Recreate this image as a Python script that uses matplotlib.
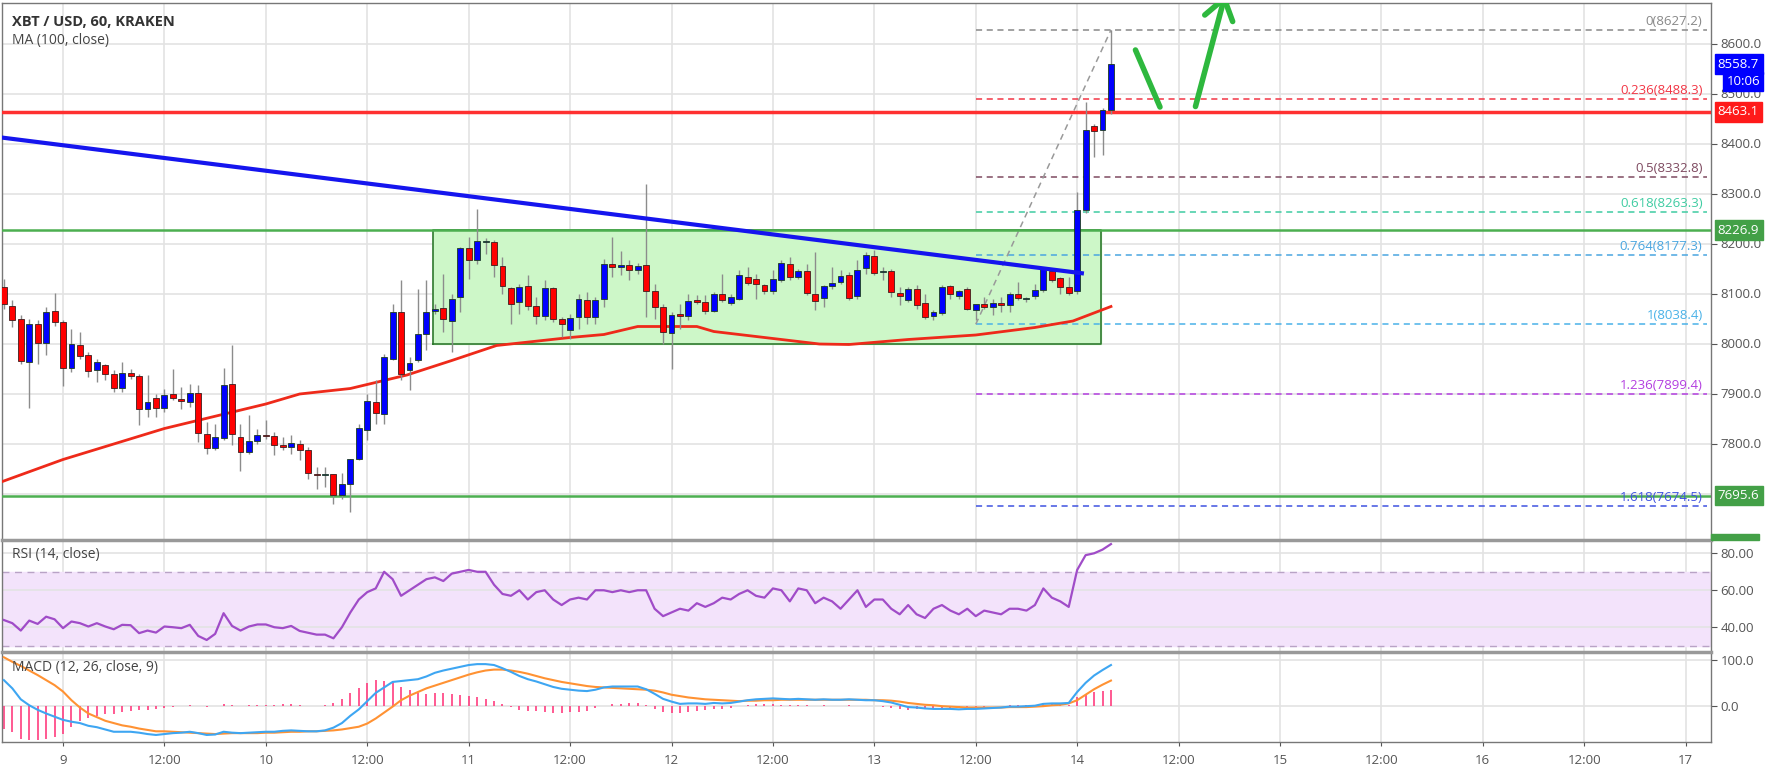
import numpy as np
import matplotlib.pyplot as plt
from matplotlib.transforms import blended_transform_factory
from matplotlib.patches import Rectangle

plt.rcParams['font.family'] = ['Open Sans', 'DejaVu Sans']

# hourly candles, hour 0 = day 9 00:00
hours = np.arange(-7, 125)
opens = [8112, 8075, 8048, 7962, 8038, 8000, 8064, 8042,
         7950, 7997, 7976, 7947, 7956, 7939, 7911, 7940, 7935, 7868,
         7890, 7870, 7899, 7888, 7882, 7900, 7819, 7790, 7810, 7918,
         7812, 7782, 7805, 7817, 7815, 7796, 7792, 7799, 7787, 7739,
         7737, 7739, 7697, 7718, 7768, 7827, 7882, 7859, 7968, 8062,
         7946, 7966, 8018, 8064, 8070, 8044, 8092, 8190, 8167, 8202,
         8202, 8155, 8110, 8082, 8114, 8074, 8054, 8110, 8048, 8027,
         8052, 8086, 8052, 8088, 8158, 8152, 8156, 8147, 8156, 8104,
         8072, 8020, 8058, 8054, 8087, 8082, 8065, 8098, 8080, 8089,
         8132, 8129, 8117, 8104, 8127, 8158, 8133, 8145, 8098, 8090,
         8114, 8122, 8137, 8094, 8150, 8175, 8142, 8144, 8100, 8087,
         8108, 8080, 8054, 8060, 8114, 8094, 8108, 8067, 8078, 8072,
         8080, 8076, 8098, 8088, 8094, 8106, 8144, 8130, 8112, 8104,
         8267, 8434, 8427, 8467]
highs = [8130, 8088, 8057, 8050, 8047, 8074, 8102, 8047,
         8030, 8024, 7984, 7970, 7960, 7947, 7964, 7950, 7940, 7937,
         7900, 7910, 7950, 7914, 7919, 7917, 7844, 7840, 7952, 7997,
         7840, 7857, 7830, 7847, 7824, 7814, 7817, 7807, 7794, 7754,
         7754, 7740, 7742, 7770, 7840, 7900, 7927, 7980, 8080, 8127,
         7974, 8110, 8127, 8080, 8140, 8100, 8194, 8214, 8270, 8212,
         8207, 8174, 8114, 8120, 8137, 8094, 8127, 8114, 8054, 8060,
         8100, 8104, 8094, 8170, 8214, 8186, 8168, 8162, 8319, 8120,
         8080, 8064, 8080, 8100, 8097, 8097, 8104, 8140, 8100, 8147,
         8154, 8140, 8120, 8147, 8167, 8174, 8150, 8160, 8184, 8117,
         8154, 8147, 8144, 8167, 8184, 8187, 8154, 8150, 8114, 8114,
         8117, 8100, 8067, 8117, 8117, 8107, 8114, 8080, 8094, 8090,
         8094, 8104, 8124, 8094, 8120, 8154, 8150, 8134, 8134, 8304,
         8484, 8440, 8471, 8627.2]
lows = [8070, 8034, 7960, 7872, 7960, 7977, 8036, 7915,
        7944, 7970, 7934, 7924, 7927, 7904, 7904, 7930, 7837, 7854,
        7854, 7864, 7887, 7870, 7874, 7804, 7780, 7787, 7807, 7797,
        7746, 7780, 7800, 7810, 7777, 7787, 7780, 7767, 7730, 7710,
        7714, 7680, 7690, 7664, 7767, 7807, 7840, 7840, 7967, 7927,
        7907, 7964, 7987, 8060, 8024, 7984, 8064, 8130, 8160, 8179,
        8134, 8100, 8040, 8060, 8067, 8040, 8047, 8044, 8014, 8010,
        8030, 8040, 8040, 8074, 8134, 8137, 8127, 8140, 8054, 8050,
        8000, 7950, 8030, 8047, 8080, 8060, 8064, 8084, 8077, 8087,
        8117, 8090, 8100, 8100, 8124, 8127, 8130, 8097, 8067, 8074,
        8110, 8120, 8087, 8090, 8140, 8137, 8127, 8094, 8077, 8084,
        8070, 8050, 8048, 8057, 8090, 8090, 8067, 8047, 8070, 8057,
        8064, 8064, 8087, 8084, 8090, 8104, 8124, 8100, 8097, 8100,
        8262, 8374, 8377, 8460]
closes = [8079, 8047, 7964, 8038, 8000, 8062, 8042, 7950,
          7999, 7975, 7944, 7962, 7938, 7911, 7940, 7935, 7868, 7882,
          7870, 7896, 7890, 7884, 7900, 7820, 7790, 7812, 7916, 7819,
          7782, 7805, 7817, 7814, 7797, 7793, 7800, 7786, 7740, 7737,
          7737, 7697, 7718, 7768, 7830, 7885, 7860, 7972, 8062, 7939,
          7960, 8018, 8062, 8068, 8048, 8088, 8190, 8167, 8205, 8202,
          8156, 8114, 8079, 8112, 8075, 8055, 8110, 8048, 8038, 8050,
          8088, 8052, 8086, 8159, 8152, 8156, 8147, 8154, 8104, 8072,
          8022, 8057, 8054, 8085, 8082, 8065, 8098, 8087, 8092, 8137,
          8120, 8119, 8104, 8129, 8160, 8132, 8145, 8100, 8085, 8114,
          8120, 8135, 8090, 8147, 8177, 8140, 8142, 8102, 8095, 8108,
          8077, 8052, 8062, 8112, 8099, 8104, 8068, 8078, 8072, 8080,
          8076, 8098, 8090, 8088, 8106, 8148, 8127, 8112, 8100, 8267,
          8427, 8424, 8466, 8558.7]

# MA(100)
ma_hours = [-7.5, 0, 12, 24, 28, 34, 40.7, 46, 51.3, 60, 64, 68, 75, 77, 84, 89.5, 93, 100, 108, 115, 119.5, 124]
ma_values = [7722, 7768, 7830, 7879, 7899, 7910, 7937, 7966, 7996, 8012, 8018, 8034, 8034, 8024, 8010, 7999,
             7998, 8008, 8017, 8032, 8045, 8074]

rsi = [43.9, 42.2, 38.2, 43.6, 41.8, 45.7, 44.3, 39.5,
       43.1, 42.2, 40.4, 42.2, 40.4, 38.9, 41.3, 41.1, 36.8, 38.2,
       37.1, 40.4, 40.0, 39.5, 41.3, 35.3, 33.1, 36.4, 47.6, 40.7,
       38.2, 40.4, 41.5, 41.5, 40.0, 39.5, 40.7, 38, 37, 36,
       36, 34, 40, 48, 55, 59, 61, 70, 66, 57,
       60, 63, 66, 67, 65, 69, 70, 71, 70, 70,
       63, 58, 57, 60, 55, 59, 60, 55, 52, 55,
       56, 55, 60, 60, 59, 60, 59, 60, 60, 50,
       46, 48, 50, 49, 53, 51, 53, 56, 55, 58,
       60, 57, 56, 61, 60, 54, 61, 60, 53, 56,
       54, 50, 55, 60, 51, 55, 55, 50, 47, 52,
       47, 45, 50, 52, 49, 47, 50, 46, 49, 48,
       47, 50, 50, 49, 52, 61, 56, 54, 51, 71,
       79, 80, 82, 85]

macd = [56, 38, 14, 1, -9, -17, -24, -31,
        -35, -38, -44, -47, -52, -57, -57, -57, -59, -62,
        -64, -62, -60, -59, -57, -60, -64, -63, -57, -59,
        -60, -59, -58, -57, -57, -55, -54, -55, -56, -56,
        -54, -48, -38, -22, -8, 10, 28, 40, 52, 54,
        56, 58, 64, 72, 77, 81, 85, 89, 91, 91,
        89, 82, 74, 65, 58, 53, 47, 41, 37, 35,
        33, 32, 35, 40, 42, 42, 42, 42, 36, 26,
        15, 9, 4, 5, 5, 4, 6, 5, 6, 9,
        12, 14, 15, 16, 15, 14, 15, 14, 13, 14,
        13, 13, 14, 13, 12, 12, 10, 7, 2, -3,
        -4, -6, -7, -7, -7, -8, -7, -7, -6, -5,
        -4, -2, -2, -1, 0, 4, 5, 5, 6, 30,
        50, 66, 78, 89]
signal = [106, 96, 87, 77, 67, 56, 45, 31,
          12, -4, -17, -25, -33, -38, -43, -46, -50, -53,
          -56, -56, -57, -58, -59, -60, -61, -62, -61, -60,
          -60, -60, -60, -59, -59, -58, -57, -57, -56, -56,
          -55, -54, -52, -49, -46, -39, -28, -15, -2, 12,
          22, 30, 38, 44, 50, 56, 62, 68, 73, 77,
          79, 79, 77, 74, 70, 65, 60, 56, 52, 49,
          46, 43, 41, 40, 39, 38, 37, 36, 35, 33,
          29, 24, 21, 18, 16, 14, 13, 12, 11, 10,
          11, 11, 12, 12, 13, 13, 13, 13, 13, 13,
          13, 13, 13, 13, 13, 12, 12, 11, 9, 6,
          4, 2, 1, -1, -2, -3, -4, -4, -4, -4,
          -4, -3, -3, -3, -2, -1, 1, 2, 5, 12,
          24, 36, 46, 55]

hline_red = 8463.1
hline_green = [8226.9, 7695.6]
trend_h = [-7.3, 120.8]
trend_p = [8412, 8140]
box_h = [43.8, 122.8]
box_p = [7999, 8226.9]

fib_ratios = ['0', '0.236', '0.5', '0.618', '0.764', '1', '1.236', '1.618']
fib_prices = [8627.2, 8488.3, 8332.8, 8263.3, 8177.3, 8038.4, 7899.4, 7674.5]
fib_colors = ['#888888', '#f23645', '#7e4a60', '#3fcca2', '#4aa6e0', '#4ab2e8', '#b33fe0', '#3f52e0']
fib_start = 108
fib_end = 194.5

xtick_h = np.arange(0, 193, 12)
xtick_labels = ['9', '12:00', '10', '12:00', '11', '12:00', '12', '12:00', '13',
                '12:00', '14', '12:00', '15', '12:00', '16', '12:00', '17']

W, H = 1767, 771
fig = plt.figure(figsize=(W / 100, H / 100), dpi=100)
fig.patch.set_facecolor('white')

def fr(x0, y0, x1, y1):
    return [x0 / W, 1 - y1 / H, (x1 - x0) / W, (y1 - y0) / H]

ax = fig.add_axes(fr(2, 3, 1711, 540))
ax_rsi = fig.add_axes(fr(2, 540, 1711, 652), sharex=ax)
ax_macd = fig.add_axes(fr(2, 652, 1711, 742), sharex=ax)

grid_c = '#e3e3e3'
for a in (ax, ax_rsi, ax_macd):
    for xv in xtick_h:
        a.axvline(xv, color=grid_c, lw=1.2, zorder=0)
    a.yaxis.tick_right()
    a.tick_params(axis='y', direction='out', length=4, colors='#555555', labelsize=9.5, pad=3)
    a.tick_params(axis='x', length=0)
    for s in a.spines.values():
        s.set_color('#777777')
        s.set_linewidth(1)
    a.set_facecolor('white')

ax.set_xlim(-7.22, 195.0)
ax.set_ylim(7607, 8681)
yt = [7800, 7900, 8000, 8100, 8200, 8300, 8400, 8500, 8600]
ax.set_yticks(yt)
ax.set_yticklabels(['%.1f' % v for v in yt])
for v in yt + [7700]:
    ax.axhline(v, color=grid_c, lw=1.2, zorder=0)
plt.setp(ax.get_xticklabels(), visible=False)
plt.setp(ax_rsi.get_xticklabels(), visible=False)

# consolidation box
ax.fill_between(box_h, box_p[0], box_p[1], color='#cdf7c8', zorder=1)
ax.plot([box_h[0], box_h[1], box_h[1], box_h[0], box_h[0]],
        [box_p[0], box_p[0], box_p[1], box_p[1], box_p[0]], color='#2f7a2f', lw=1.2, zorder=2)

ax.axhline(hline_red, color='#ff3030', lw=2.5, zorder=3)
for v in hline_green:
    ax.axhline(v, color='#4caf50', lw=1.8, zorder=3)

# fib levels
for r, p, c in zip(fib_ratios, fib_prices, fib_colors):
    ax.plot([fib_start, fib_end], [p, p], color=c, lw=1.1, ls=(0, (4, 3)), zorder=2)
    ax.text(194.0, p + 4, '%s(%.1f)' % (r, p), color=c, fontsize=9.5, ha='right', va='bottom', zorder=5)
ax.plot([fib_start, 124], [fib_prices[5], fib_prices[0]], color='#999999', lw=1.1, ls=(0, (4, 3)), zorder=2)

# MA
ax.plot(ma_hours, ma_values, color='#ee2a1a', lw=2, zorder=4)

# candles
o = np.array(opens, float)
c = np.array(closes, float)
up = c >= o
body_lo = np.minimum(o, c)
body_h = np.maximum(np.abs(c - o), 2.5)
ax.vlines(hours, lows, highs, color='#8c8c8c', lw=1, zorder=5)
ax.bar(hours[up], body_h[up], 0.7, bottom=body_lo[up], color='#0000ff', edgecolor='#1d3d1d', lw=0.6, zorder=6)
ax.bar(hours[~up], body_h[~up], 0.7, bottom=body_lo[~up], color='#ff0000', edgecolor='#3d1d1d', lw=0.6, zorder=6)

# trend line
ax.plot(trend_h, trend_p, color='#1515ee', lw=3, zorder=7, solid_capstyle='butt')

# green arrows
gc = '#2eb83e'
ax.plot([126.9, 129.8], [8587, 8473], color=gc, lw=4, solid_capstyle='round', zorder=8)
ax.plot([134.0, 137.4], [8474, 8690], color=gc, lw=4, solid_capstyle='round', zorder=8)
ax.plot([135.1, 137.4, 138.4], [8657, 8690, 8644], color=gc, lw=4, solid_capstyle='round',
        solid_joinstyle='miter', zorder=8)

ax.text(0.006, 0.965, 'XBT / USD, 60, KRAKEN', transform=ax.transAxes, fontsize=10.5,
        fontweight='bold', color='#333333', va='center')
ax.text(0.006, 0.93, 'MA (100, close)', transform=ax.transAxes, fontsize=10,
        color='#444444', va='center')

# price labels on the right scale
tr = blended_transform_factory(ax.transAxes, ax.transData)
def tag(price, txt, color, dx=0.004):
    ax.text(1.0 + dx, price, txt, transform=tr, color='white', fontsize=9.5, va='center', ha='left',
            bbox=dict(boxstyle='square,pad=0.25', fc=color, ec=color), zorder=10, clip_on=False)
tag(8558.7, '8558.7', '#0000ff')
tag(8524.0, '10:06', '#0000ff', dx=0.009)
tag(hline_red, '8463.1', '#ff1a1a')
tag(hline_green[0], '8226.9', '#43a047')
tag(hline_green[1], '7695.6', '#43a047')
# label of a level just below the visible range, cut by the panel edge
fig.patches.append(Rectangle((1711 / W, 1 - 540 / H), 48 / W, 6 / H, transform=fig.transFigure,
                             color='#43a047', zorder=10))

# RSI
ax_rsi.set_ylim(26.6, 87.2)
ax_rsi.axhspan(30, 70, color='#f3e3fb', zorder=0)
for v in (40, 60, 80):
    ax_rsi.axhline(v, color=grid_c, lw=1.2, zorder=1)
for v in (30, 70):
    ax_rsi.axhline(v, color='#b9a3c6', lw=1, ls=(0, (5, 4)), zorder=1)
ax_rsi.plot(hours, rsi, color='#a04cc8', lw=1.6, zorder=3)
ax_rsi.set_yticks([40, 60, 80])
ax_rsi.set_yticklabels(['40.00', '60.00', '80.00'])
ax_rsi.text(0.006, 0.87, 'RSI (14, close)', transform=ax_rsi.transAxes, fontsize=10,
            color='#444444', va='center')
ax_rsi.spines['top'].set_linewidth(2.5)
ax_rsi.spines['top'].set_color('#999999')

# MACD
ax_macd.set_ylim(-79.4, 117.5)
for v in (0, 100):
    ax_macd.axhline(v, color=grid_c, lw=1.2, zorder=1)
hist = np.array(macd) - np.array(signal)
ax_macd.vlines(hours, 0, hist, color='#ff3d7f', lw=1.2, zorder=2)
ax_macd.plot(hours, signal, color='#ff9233', lw=1.5, zorder=3)
ax_macd.plot(hours, macd, color='#3ea6f2', lw=1.5, zorder=4)
ax_macd.set_yticks([0, 100])
ax_macd.set_yticklabels(['0.0', '100.0'])
ax_macd.text(0.006, 0.83, 'MACD (12, 26, close, 9)', transform=ax_macd.transAxes, fontsize=10,
             color='#444444', va='center')
ax_macd.spines['top'].set_linewidth(2.5)
ax_macd.spines['top'].set_color('#999999')
ax_macd.set_xticks(xtick_h)
ax_macd.set_xticklabels(xtick_labels)
ax_macd.tick_params(axis='x', length=3, direction='out', colors='#555555', labelsize=9.5, pad=6)

fig.savefig('out.png', dpi=100, facecolor='white')
